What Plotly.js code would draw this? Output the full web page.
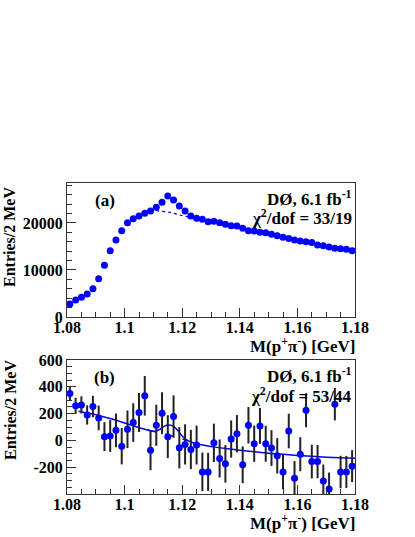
<!DOCTYPE html>
<html>
<head>
<meta charset="utf-8">
<script src="https://cdn.plot.ly/plotly-3.0.1.min.js"></script>
<style>
  body { margin: 0; background: #fff; }
  #chart { width: 415px; height: 537px; }
</style>
</head>
<body>
<div id="chart"></div>
<script>
// Bin centres (2 MeV bins) in GeV
const massBins = [1.081, 1.083, 1.085, 1.087, 1.089, 1.091, 1.093, 1.095, 1.097, 1.099,
    1.101, 1.103, 1.105, 1.107, 1.109, 1.111, 1.113, 1.115, 1.117, 1.119,
    1.121, 1.123, 1.125, 1.127, 1.129, 1.131, 1.133, 1.135, 1.137, 1.139,
    1.141, 1.143, 1.145, 1.147, 1.149, 1.151, 1.153, 1.155, 1.157, 1.159,
    1.161, 1.163, 1.165, 1.167, 1.169, 1.171, 1.173, 1.175, 1.177, 1.179];

// (a) entries per bin
const entriesA = [2770, 3620, 4180, 4890, 6030, 8160, 10990, 14110, 16380, 18370,
    20070, 20920, 21490, 22060, 22550, 23330, 24400, 25740, 24890, 23620,
    22550, 21490, 20990, 20780, 20280, 20350, 20070, 19720, 19430, 19360,
    18870, 18370, 18300, 18010, 17940, 17590, 17300, 16950, 16670, 16380,
    16170, 16030, 15820, 15320, 15180, 14890, 14610, 14540, 14400, 14110];

// (a) background part of the fit under the peak
const bgXA = [1.105, 1.107, 1.109, 1.111, 1.113, 1.115, 1.117, 1.119, 1.121, 1.123];
const bgA = [21500, 22000, 22400, 22600, 22550, 22350, 22050, 21650, 21400, 21200];

// (b) subtracted entries and their errors
const entriesB = [350, 258, 265, 190, 253, 168, 28, 33, 75, -43,
    83, 133, 208, 333, -73, 113, 203, 28, 178, -55,
    -30, -68, -35, -235, -235, -18, -135, -175, 10, 50,
    -182, 113, -25, 108, -25, -57, -115, -235, 70, -283,
    -103, 225, -158, -158, -303, -362, 270, -236, -236, -192];
const errorsB = [50, 60, 64, 72, 80, 92, 108, 119, 126, 136,
    140, 144, 146, 148, 150, 153, 156, 160, 158, 154,
    150, 147, 145, 144, 142, 143, 142, 140, 139, 139,
    137, 136, 135, 134, 134, 133, 132, 130, 129, 128,
    127, 127, 126, 124, 123, 122, 121, 121, 120, 119];

// (b) total fit and background
const fitXB = [1.084, 1.088, 1.092, 1.096, 1.100, 1.104, 1.108, 1.110, 1.111, 1.112,
    1.113, 1.114, 1.115, 1.116, 1.117, 1.118, 1.119, 1.120, 1.121, 1.122,
    1.124, 1.128, 1.132, 1.136, 1.140, 1.145, 1.150, 1.155, 1.160, 1.165,
    1.170, 1.175, 1.180];
const fitB = [218, 200, 180, 158, 130, 102, 78, 68, 70, 80,
    95, 108, 115, 114, 104, 85, 60, 32, 12, -2,
    -20, -38, -52, -63, -73, -84, -95, -104, -112, -119,
    -125, -130, -134];
const bgXB = [1.108, 1.110, 1.112, 1.114, 1.116, 1.118, 1.120, 1.122];
const bgB = [78, 68, 57, 46, 36, 24, 10, -2];

const serif = 'Liberation Serif, Times New Roman, serif';
const blue = '#0000ff';
const frame = '#333333';

function px(x) { return x / 415; }
function py(y) { return 1 - y / 537; }

function xAxis(anchor) {
    return {
        domain: [px(67), px(355)],
        range: [1.08, 1.18],
        anchor: anchor,
        dtick: 0.02,
        tick0: 1.08,
        ticks: 'inside',
        ticklen: 9,
        tickcolor: frame,
        minor: { dtick: 0.005, tick0: 1.08, ticks: 'inside', ticklen: 5, tickcolor: frame },
        showline: true,
        mirror: true,
        linecolor: frame,
        linewidth: 1,
        showgrid: false,
        zeroline: false,
        ticklabelstandoff: -4,
        tickfont: { family: serif, size: 16, weight: 'bold', color: '#000' }
    };
}

const traces = [
    {
        x: massBins, y: entriesA, type: 'scatter', mode: 'markers',
        marker: { color: blue, size: 7 },
        xaxis: 'x', yaxis: 'y'
    },
    {
        x: bgXA, y: bgA, type: 'scatter', mode: 'lines',
        line: { color: blue, width: 1.2, dash: 'dot' },
        xaxis: 'x', yaxis: 'y'
    },
    {
        x: fitXB, y: fitB, type: 'scatter', mode: 'lines',
        line: { color: blue, width: 1.5, shape: 'spline' },
        xaxis: 'x2', yaxis: 'y2'
    },
    {
        x: bgXB, y: bgB, type: 'scatter', mode: 'lines',
        line: { color: blue, width: 1.5, dash: 'dash' },
        xaxis: 'x2', yaxis: 'y2'
    },
    {
        x: massBins, y: entriesB, type: 'scatter', mode: 'markers',
        marker: { color: blue, size: 7 },
        error_y: { type: 'data', array: errorsB, color: '#222', thickness: 2, width: 0 },
        xaxis: 'x2', yaxis: 'y2'
    }
];

function label(text, x, y, xanchor, size) {
    return {
        text: text, xref: 'paper', yref: 'paper', x: px(x), y: py(y),
        xanchor: xanchor, yanchor: 'middle', showarrow: false,
        font: { family: serif, size: size || 17, weight: 'bold', color: '#000' }
    };
}

const xTitle = 'M(p<sup>+</sup>π<sup>-</sup>) [GeV]';

const layout = {
    width: 415,
    height: 537,
    margin: { l: 0, r: 0, t: 0, b: 0 },
    paper_bgcolor: '#fff',
    plot_bgcolor: '#fff',
    showlegend: false,
    xaxis: xAxis('y'),
    yaxis: {
        domain: [py(317), py(183)],
        range: [0, 28500],
        anchor: 'x',
        dtick: 10000,
        tickformat: 'd',
        ticks: 'inside',
        ticklen: 9,
        tickcolor: frame,
        minor: { dtick: 2000, ticks: 'inside', ticklen: 5, tickcolor: frame },
        showline: true,
        mirror: true,
        linecolor: frame,
        showgrid: false,
        zeroline: false,
        tickfont: { family: serif, size: 16, weight: 'bold', color: '#000' }
    },
    xaxis2: xAxis('y2'),
    yaxis2: {
        domain: [py(494), py(360)],
        range: [-400, 600],
        anchor: 'x2',
        tickmode: 'array',
        tickvals: [-200, 0, 200, 400, 600],
        ticktext: ['-200', '0', '200', '400', '600'],
        ticks: 'inside',
        ticklen: 9,
        tickcolor: frame,
        minor: { tickmode: 'linear', dtick: 50, tick0: 0, ticks: 'inside', ticklen: 5, tickcolor: frame },
        showline: true,
        mirror: true,
        linecolor: frame,
        showgrid: false,
        zeroline: false,
        tickfont: { family: serif, size: 16, weight: 'bold', color: '#000' }
    },
    annotations: [
        label('(a)', 105, 200, 'center'),
        label('DØ, 6.1 fb<sup>-1</sup>', 354, 198, 'right'),
        label('χ<sup>2</sup>/dof = 33/19', 354, 217, 'right'),
        label('(b)', 105, 377, 'center'),
        label('DØ, 6.1 fb<sup>-1</sup>', 354, 375, 'right'),
        label('χ<sup>2</sup>/dof = 53/44', 354, 395, 'right'),
        label(xTitle, 358, 345, 'right', 17),
        label(xTitle, 358, 522, 'right', 17),
        Object.assign(label('Entries/2 MeV', 10, 237, 'center', 16), { textangle: -90 }),
        Object.assign(label('Entries/2 MeV', 10, 410, 'center', 16), { textangle: -90 })
    ]
};

Plotly.newPlot('chart', traces, layout, { staticPlot: true, displayModeBar: false });
</script>
</body>
</html>
